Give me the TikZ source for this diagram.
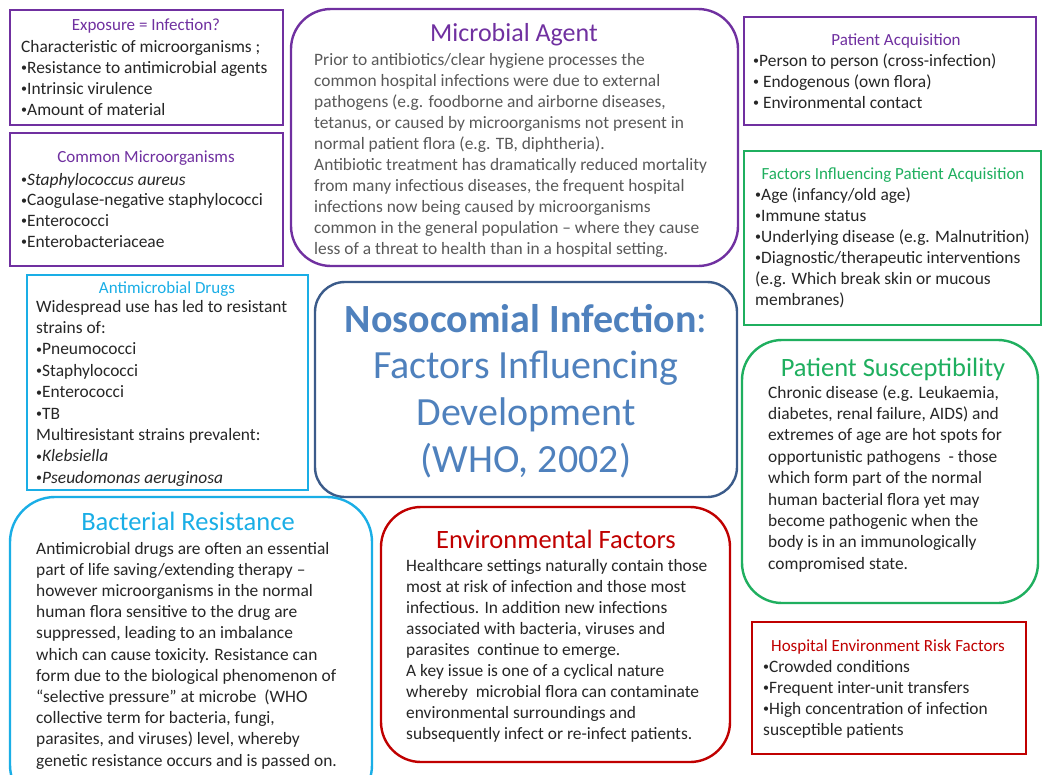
\documentclass[tikz,border=0pt]{standalone}
\usepackage{fontspec}
\setmainfont{Carlito}
\usetikzlibrary{positioning}
\definecolor{lila}{HTML}{7030A0}
\definecolor{tuerkis}{HTML}{1AAEE6}
\definecolor{gruen}{HTML}{1FAF5F}
\definecolor{rot}{HTML}{C00000}
\definecolor{marine}{HTML}{3B5B8A}
\definecolor{hellblau}{HTML}{4F81BD}
\newcommand{\kopf}{\fontsize{17}{20}\selectfont}
\newcommand{\gross}{\fontsize{26.5}{30}\selectfont}
\newcommand{\zeilen}[1]{\begin{tabular}[t]{@{}l@{}}#1\end{tabular}}
\newcommand{\mittig}[1]{\begin{tabular}[t]{@{}c@{}}#1\end{tabular}}
\newcommand{\punkt}{{\fontsize{12}{12}\selectfont\raisebox{0.25ex}{•}}}

\begin{document}
\begin{tikzpicture}[x=1pt,y=-1pt,
  rahmen/.style={line width=2.4pt},
  kopfzeile/.style={anchor=base,inner sep=0pt,font=\kopf},
  titelzeile/.style={anchor=base,inner sep=0pt,font=\gross},
  rumpf/.style={anchor=base west,inner sep=0pt,text=black!85,
    font=\fontsize{17.4}{21.1}\selectfont}]
  \useasboundingbox (0,0) rectangle (1043,774);
  \fill[white] (0,0) rectangle (1043,774);

  % linke Spalte oben
  \draw[rahmen,draw=lila] (10,10) rectangle (283,125)
  (146,30) node[kopfzeile,text=lila] (exposition) {Exposure = Infection?}
  (20,52) node[rumpf] (exposition-text) {\zeilen{Characteristic of microorganisms ;\\
    \punkt Resistance to antimicrobial agents\\
    \punkt Intrinsic virulence\\
    \punkt Amount of material}};
  \draw[rahmen,draw=lila] (10,133) rectangle (283,266)
  (146,162) node[kopfzeile,text=lila] (keime) {Common Microorganisms}
  (20,185) node[rumpf,font=\fontsize{17.4}{20.7}\selectfont] (keime-text) {\zeilen{\punkt\textit{Staphylococcus aureus}\\
    \punkt Caogulase-negative staphylococci\\
    \punkt Enterococci\\
    \punkt Enterobacteriaceae}};

  % Mitte oben
  \draw[rahmen,draw=lila,rounded corners=40pt] (291,9) rectangle (738,266)
  (514,41) node[titelzeile,text=lila,font=\fontsize{26}{30}\selectfont] (agens) {Microbial Agent}
  (313,65) node[rumpf,text=black!65] (agens-text) {\zeilen{Prior to antibiotics/clear hygiene processes the\\
    common hospital infections were due to external\\
    pathogens (e.g. foodborne and airborne diseases,\\
    tetanus, or caused by microorganisms not present in\\
    normal patient flora (e.g. TB, diphtheria).\\
    Antibiotic treatment has dramatically reduced mortality\\
    from many infectious diseases, the frequent hospital\\
    infections now being caused by microorganisms\\
    common in the general population -- where they cause\\
    less of a threat to health than in a hospital setting.}};

  % rechte Spalte oben
  \draw[rahmen,draw=lila] (744,17) rectangle (1036,125)
  (896,45) node[kopfzeile,text=lila] (erwerb) {Patient Acquisition}
  (752,66) node[rumpf] (erwerb-text) {\zeilen{\punkt Person to person (cross-infection)\\
    \punkt\ Endogenous (own flora)\\
    \punkt\ Environmental contact}};
  \draw[rahmen,draw=gruen] (744,151) rectangle (1041,325)
  (893,179) node[kopfzeile,text=gruen] (faktoren) {Factors Influencing Patient Acquisition}
  (754,200) node[rumpf] (faktoren-text) {\zeilen{\punkt Age (infancy/old age)\\
    \punkt Immune status\\
    \punkt Underlying disease (e.g. Malnutrition)\\
    \punkt Diagnostic/therapeutic interventions\\
    (e.g. Which break skin or mucous\\
    membranes)}};

  % linke Spalte Mitte
  \draw[rahmen,draw=tuerkis] (27,275) rectangle (308,490)
  (167,293) node[kopfzeile,text=tuerkis] (medikamente) {Antimicrobial Drugs}
  (35,312) node[rumpf,font=\fontsize{17.4}{21.4}\selectfont] (medikamente-text) {\zeilen{Widespread use has led to resistant\\
    strains of:\\
    \punkt Pneumococci\\
    \punkt Staphylococci\\
    \punkt Enterococci\\
    \punkt TB\\
    Multiresistant strains prevalent:\\
    \punkt\textit{Klebsiella}\\
    \punkt\textit{Pseudomonas aeruginosa}}};

  % Zentrum
  \draw[rahmen,draw=marine,rounded corners=30pt] (315,282) rectangle (737,497)
  (526,332) node[anchor=base,inner sep=0pt,text=hellblau,
    font=\fontsize{40}{46.7}\selectfont] (zentrum)
  {\mittig{\textbf{Nosocomial Infection}:\\
    Factors Influencing\\
    Development\\
    (WHO, 2002)}};

  % rechte Spalte Mitte
  \draw[rahmen,draw=gruen,rounded corners=40pt] (742,340) rectangle (1038,603)
  (893,376) node[titelzeile,text=gruen] (anfaelligkeit) {Patient Susceptibility}
  (767,398) node[rumpf,font=\fontsize{17.4}{21.4}\selectfont] (anfaelligkeit-text) {\zeilen{Chronic disease (e.g. Leukaemia,\\
    diabetes, renal failure, AIDS) and\\
    extremes of age are hot spots for\\
    opportunistic pathogens~ - those\\
    which form part of the normal\\
    human bacterial flora yet may\\
    become pathogenic when the\\
    body is in an immunologically\\
    compromised state.}};
  \draw[rahmen,draw=rot] (752,622) rectangle (1026,754)
  (888,651) node[kopfzeile,text=rot] (klinik) {Hospital Environment Risk Factors}
  (762,672) node[rumpf] (klinik-text) {\zeilen{\punkt Crowded conditions\\
    \punkt Frequent inter-unit transfers\\
    \punkt High concentration of infection\\
    susceptible patients}};

  % untere Reihe
  \draw[rahmen,draw=tuerkis,rounded corners=45pt] (10,497) rectangle (372,810)
  (188,530) node[titelzeile,text=tuerkis] (resistenz) {Bacterial Resistance}
  (35,554) node[rumpf,font=\fontsize{17.4}{21.2}\selectfont] (resistenz-text) {\zeilen{Antimicrobial drugs are often an essential\\
    part of life saving/extending therapy --\\
    however microorganisms in the normal\\
    human flora sensitive to the drug are\\
    suppressed, leading to an imbalance\\
    which can cause toxicity. Resistance can\\
    form due to the biological phenomenon of\\
    “selective pressure” at microbe~ (WHO\\
    collective term for bacteria, fungi,\\
    parasites, and viruses) level, whereby\\
    genetic resistance occurs and is passed on.}};
  \draw[rahmen,draw=rot,rounded corners=40pt] (381,507) rectangle (730,762)
  (556,548) node[titelzeile,text=rot] (umwelt) {Environmental Factors}
  (405,571) node[rumpf] (umwelt-text) {\zeilen{Healthcare settings naturally contain those\\
    most at risk of infection and those most\\
    infectious. In addition new infections\\
    associated with bacteria, viruses and\\
    parasites~ continue to emerge.\\
    A key issue is one of a cyclical nature\\
    whereby~ microbial flora can contaminate\\
    environmental surroundings and\\
    subsequently infect or re-infect patients.}};
\end{tikzpicture}
\end{document}
